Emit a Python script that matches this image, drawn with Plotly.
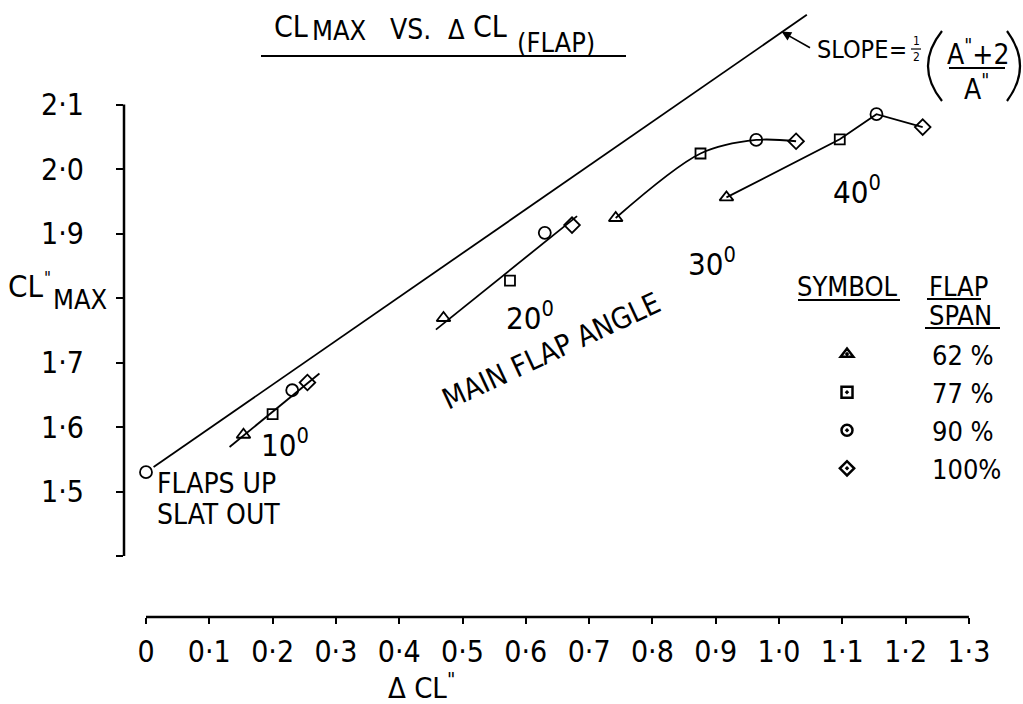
import plotly.graph_objects as go

# ---------------- data ----------------
flaps_up_dcl = [0.0]
flaps_up_clmax = [1.53]

# flap angle order: 10, 20, 30, 40 deg
dcl_62 = [0.154, 0.470, 0.742, 0.917]
clmax_62 = [1.588, 1.769, 1.924, 1.956]
dcl_77 = [0.200, 0.575, 0.876, 1.096]
clmax_77 = [1.620, 1.827, 2.024, 2.046]
dcl_90 = [0.231, 0.630, 0.964, 1.154]
clmax_90 = [1.657, 1.901, 2.045, 2.085]
dcl_100 = [0.255, 0.673, 1.027, 1.227]
clmax_100 = [1.669, 1.913, 2.043, 2.065]

span_names = ["62 %", "77 %", "90 %", "100%"]
angle_labels = ["10", "20", "30", "40"]

fit10_dcl = [0.132, 0.274]
fit10_clmax = [1.569, 1.683]
fit20_dcl = [0.458, 0.681]
fit20_clmax = [1.751, 1.927]

slope_dcl = [0.012, 1.044]
slope_clmax = [1.538, 2.239]

x_tickvals = [0, 0.1, 0.2, 0.3, 0.4, 0.5, 0.6, 0.7, 0.8, 0.9, 1.0, 1.1, 1.2, 1.3]
x_ticktext = ["0", "0·1", "0·2", "0·3", "0·4", "0·5", "0·6", "0·7", "0·8", "0·9",
              "1·0", "1·1", "1·2", "1·3"]
y_tickvals = [1.5, 1.6, 1.7, 1.9, 2.0, 2.1]
y_ticktext = ["1·5", "1·6", "1·7", "1·9", "2·0", "2·1"]
y_unlabelled_ticks = [1.4, 1.8]

# ---------------- styling ----------------
FONT = "DejaVu Sans Condensed, DejaVu Sans, sans-serif"
BLACK = "black"
L, R, T, B = 124, 1010, 10, 617


def px(xp):
    return (xp - L) / (R - L)


def py(yp):
    return (B - yp) / (B - T)


fig = go.Figure()

line_style = dict(color=BLACK, width=1.8)

# slope line
fig.add_trace(go.Scatter(x=slope_dcl, y=slope_clmax, mode="lines",
                         line=line_style, showlegend=False, hoverinfo="skip"))
# fitted lines 10 and 20 deg
fig.add_trace(go.Scatter(x=fit10_dcl, y=fit10_clmax, mode="lines",
                         line=line_style, showlegend=False, hoverinfo="skip"))
fig.add_trace(go.Scatter(x=fit20_dcl, y=fit20_clmax, mode="lines",
                         line=line_style, showlegend=False, hoverinfo="skip"))
# curves 30 and 40 deg through the points
series = [(dcl_62, clmax_62), (dcl_77, clmax_77), (dcl_90, clmax_90), (dcl_100, clmax_100)]
for k, shape in ((2, "spline"), (3, "linear")):
    cx = [s[0][k] for s in series]
    cy = [s[1][k] for s in series]
    fig.add_trace(go.Scatter(x=cx, y=cy, mode="lines",
                             line=dict(color=BLACK, width=1.8, shape=shape, smoothing=0.9)
                             if shape == "spline" else dict(color=BLACK, width=1.8),
                             showlegend=False, hoverinfo="skip"))

symbols = ["triangle-up-open", "square-open", "circle-open", "diamond-open"]
sizes = [12, 10, 12, 12]
for (xs, ys), sym, sz, nm in zip(series, symbols, sizes, span_names):
    fig.add_trace(go.Scatter(x=xs, y=ys, mode="markers", name=nm,
                             marker=dict(symbol=sym, size=sz, color=BLACK,
                                         line=dict(color=BLACK, width=1.8)),
                             showlegend=False))

# flaps-up point
fig.add_trace(go.Scatter(x=flaps_up_dcl, y=flaps_up_clmax, mode="markers",
                         marker=dict(symbol="circle-open", size=12, color=BLACK,
                                     line=dict(color=BLACK, width=1.8)),
                         showlegend=False))

# legend-only entries (symbols with centre dot, as in the key)
for sym, nm in zip(["triangle-up-open-dot", "square-open-dot", "circle-open-dot", "diamond-open-dot"],
                   span_names):
    fig.add_trace(go.Scatter(x=[None], y=[None], mode="markers", name=nm,
                             marker=dict(symbol=sym, size=11, color=BLACK,
                                         line=dict(color=BLACK, width=2.5))))

ann = []


def text(x, y, s, size=28, xref="paper", yref="paper", xanchor="center", yanchor="middle", angle=0):
    ann.append(dict(x=x, y=y, xref=xref, yref=yref, text=s, showarrow=False,
                    xanchor=xanchor, yanchor=yanchor, textangle=angle,
                    font=dict(family=FONT, size=size, color=BLACK)))


# title
text(px(291), py(27), "CL", 30)
text(px(310), py(31), "MAX", 27, xanchor="left")
text(px(388), py(30), "VS.", 28, xanchor="left")
text(px(446), py(30), "Δ", 27, xanchor="left")
text(px(490), py(27), "CL", 30)
text(px(515), py(43), "(FLAP)", 27, xanchor="left")

# y axis title
text(px(6), py(286), "CL", 31, xanchor="left")
text(px(42), py(278), '"', 17, xanchor="left")
text(px(51), py(299), "MAX", 27, xanchor="left")

# x axis title
text(px(386), py(686), 'Δ CL<sup>"</sup>', 29, xanchor="left")

# slope formula
text(px(815), py(50), "SLOPE", 25, xanchor="left")
text(px(898), py(50), "=", 24)
text(px(916), py(41), "1", 12)
text(px(916), py(57), "2", 12)
text(px(978), py(52), 'A<sup>"</sup>+2', 28)
text(px(976), py(87), 'A<sup>"</sup>', 28)

# curve labels
deg = "<sup>0</sup>"
text(0.219, 1.575, angle_labels[0] + deg, 31, xref="x", yref="y")
text(0.606, 1.772, angle_labels[1] + deg, 31, xref="x", yref="y")
text(0.894, 1.856, angle_labels[2] + deg, 31, xref="x", yref="y")
text(1.123, 1.967, angle_labels[3] + deg, 31, xref="x", yref="y")
text(0.640, 1.718, "MAIN FLAP ANGLE", 29, xref="x", yref="y", angle=-25)
text(0.014, 1.512, "FLAPS UP", 28, xref="x", yref="y", xanchor="left")
text(0.014, 1.464, "SLAT OUT", 28, xref="x", yref="y", xanchor="left")

# key headers
text(px(847), py(286), "SYMBOL", 27)
text(px(927), py(286), "FLAP", 27, xanchor="left")
text(px(927), py(315), "SPAN", 27, xanchor="left")

# arrow to the slope line
ann.append(dict(x=1.004, y=2.213, xref="x", yref="y", ax=30, ay=17, text="",
                showarrow=True, arrowhead=2, arrowsize=1.2, arrowwidth=1.6, arrowcolor=BLACK))


def seg(x0, y0, x1, y1, w=2):
    return dict(type="line", xref="paper", yref="paper", x0=px(x0), x1=px(x1),
                y0=py(y0), y1=py(y1), line=dict(color=BLACK, width=w))


def paren(xe, xm, y0, y1):
    # quadratic curve from (xe, y0) to (xe, y1) bulging to xm at the middle
    cx = 2 * xm - xe
    path = "M {:.5f},{:.5f} Q {:.5f},{:.5f} {:.5f},{:.5f}".format(
        px(xe), py(y0), px(cx), py((y0 + y1) / 2), px(xe), py(y1))
    return dict(type="path", xref="paper", yref="paper", path=path,
                line=dict(color=BLACK, width=2.2))


shapes = [
    # y axis line (1.4 .. 2.1)
    dict(type="line", xref="paper", yref="y", x0=0, x1=0, y0=1.4, y1=2.1,
         line=dict(color=BLACK, width=2.5)),
    # x axis line (0 .. 1.3)
    dict(type="line", xref="x", yref="paper", x0=0, x1=1.3, y0=0, y1=0,
         line=dict(color=BLACK, width=2.5)),
    seg(261, 56, 626, 56),            # title underline
    seg(949, 68, 1005, 68),           # fraction bar
    seg(911, 49, 921, 49, 1.2),       # small half bar
    paren(942, 928, 31, 101),
    paren(1007, 1020, 31, 101),
    seg(798, 300, 900, 300),          # key underlines
    seg(927, 299, 981, 299),
    seg(925, 328, 1000, 328),
]

fig.update_layout(
    width=1023, height=704,
    margin=dict(l=L, r=1023 - R, t=T, b=704 - B),
    plot_bgcolor="white", paper_bgcolor="white",
    font=dict(family=FONT, color=BLACK),
    annotations=ann, shapes=shapes,
    showlegend=True,
    legend=dict(x=px(762), y=py(330), xanchor="left", yanchor="top",
                font=dict(family=FONT, size=27, color=BLACK),
                itemwidth=160, bgcolor="rgba(0,0,0,0)", borderwidth=0,
                tracegroupgap=0),
    xaxis=dict(range=[-0.03476, 1.36493], showgrid=False, zeroline=False, showline=False,
               tickmode="array", tickvals=x_tickvals, ticktext=x_ticktext,
               ticks="outside", ticklen=6, tickwidth=2, tickcolor=BLACK,
               tickfont=dict(family=FONT, size=30, color=BLACK), ticklabelstandoff=2),
    yaxis=dict(range=[1.30543, 2.24651], showgrid=False, zeroline=False, showline=False,
               tickmode="array", tickvals=y_tickvals, ticktext=y_ticktext,
               ticks="outside", ticklen=7, tickwidth=2, tickcolor=BLACK,
               minor=dict(tickmode="array", tickvals=y_unlabelled_ticks, ticks="outside",
                          ticklen=7, tickwidth=2, tickcolor=BLACK, showgrid=False),
               tickfont=dict(family=FONT, size=30, color=BLACK), ticklabelstandoff=26),
)

fig.write_html("out.html")
